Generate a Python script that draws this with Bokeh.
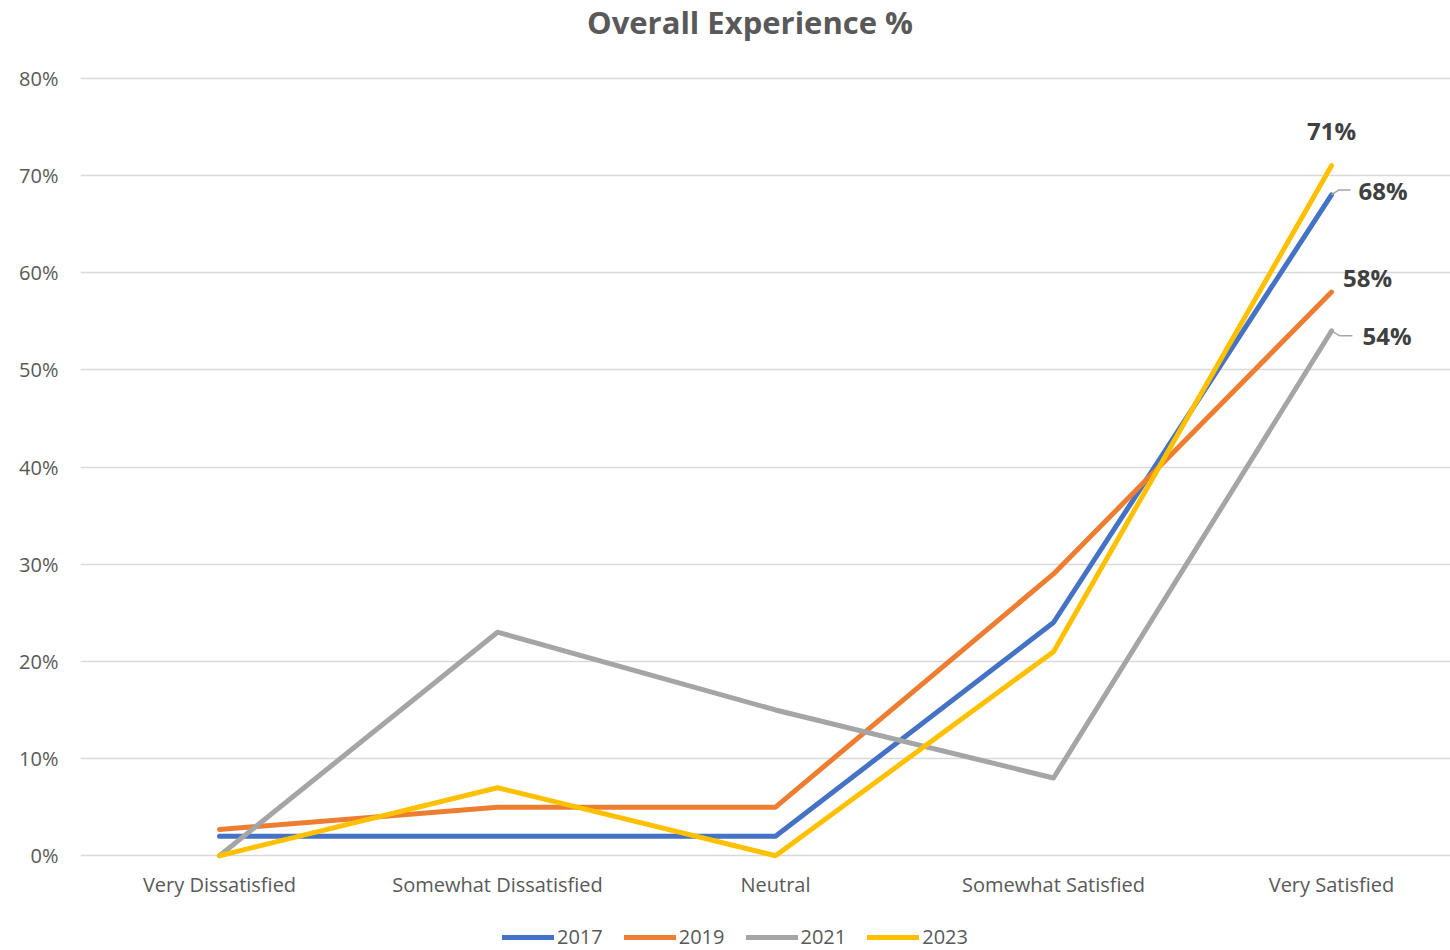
from bokeh.plotting import figure
from bokeh.models import ColumnDataSource, FixedTicker, Legend, LegendItem, Div
from bokeh.layouts import column
from bokeh.core.properties import value
from bokeh.embed import file_html
from bokeh.resources import INLINE

categories = ["Very Dissatisfied", "Somewhat Dissatisfied", "Neutral", "Somewhat Satisfied", "Very Satisfied"]
years = ["2017", "2019", "2021", "2023"]
v2017 = [2, 2, 2, 24, 68]
v2019 = [2.7, 5, 5, 29, 58]
v2021 = [0, 23, 15, 8, 54]
v2023 = [0, 7, 0, 21, 71]
series = [v2017, v2019, v2021, v2023]
colors = ["#4472C4", "#ED7D31", "#A5A5A5", "#FFC000"]
y_ticks = [0, 10, 20, 30, 40, 50, 60, 70, 80]
y_tick_labels = ["0%", "10%", "20%", "30%", "40%", "50%", "60%", "70%", "80%"]
title_text = "Overall Experience %"

FONT = "Open Sans"
GREY = "#595959"

title = Div(text=f'<div style="margin-left:50px;width:1400px;text-align:center;'
                 f'font-family:\'{FONT}\';font-size:31px;font-weight:bold;color:{GREY};'
                 f'line-height:44px;white-space:nowrap">{title_text}</div>',
            width=1450, height=44, margin=(0, 0, 0, 0))

p = figure(width=1450, height=862, output_backend="svg", toolbar_location=None,
           x_range=(-0.5, 4.428), y_range=(-0.8, 80.8),
           min_border_left=80, min_border_right=0, min_border_top=26, min_border_bottom=43,
           margin=(0, 0, 0, 0))
p.outline_line_color = None
p.background_fill_color = "white"

x = list(range(len(categories)))
for yr, vals, c in zip(years, series, colors):
    p.line(x, vals, line_color=c, line_width=5, line_cap="round", line_join="round")

# leader lines for 68% and 54%
ld = ColumnDataSource(dict(xs=[[4, 4.025, 4.068], [4, 4.03, 4.075]],
                           ys=[[v2017[4], v2017[4] + 0.5, v2017[4] + 0.5],
                               [v2021[4], v2021[4] - 0.5, v2021[4] - 0.5]]))
p.multi_line("xs", "ys", source=ld, line_color="#A5A5A5", line_width=1.5)

lab = ColumnDataSource(dict(
    x=[4, 4, 4, 4],
    y=[v2023[4], v2017[4], v2019[4], v2021[4]],
    t=[f"{v2023[4]}%", f"{v2017[4]}%", f"{v2019[4]}%", f"{v2021[4]}%"],
    xo=[0, 27, 36, 31],
    yo=[-35, -4, -15, 5],
    al=["center", "left", "center", "left"],
))
p.text("x", "y", text="t", source=lab, x_offset="xo", y_offset="yo", text_align="al",
       text_baseline="middle", text_font=value(FONT), text_font_size="24px",
       text_font_style="bold", text_color="#404040")

p.xaxis.ticker = FixedTicker(ticks=x)
p.xaxis.major_label_overrides = {i: c for i, c in enumerate(categories)}
p.yaxis.ticker = FixedTicker(ticks=y_ticks)
p.yaxis.major_label_overrides = {t: l for t, l in zip(y_ticks, y_tick_labels)}
for ax in (p.xaxis, p.yaxis):
    ax.axis_line_color = None
    ax.major_tick_line_color = None
    ax.minor_tick_line_color = None
    ax.major_tick_out = 0
    ax.major_tick_in = 0
    ax.minor_tick_out = 0
    ax.major_label_text_font = FONT
    ax.major_label_text_font_size = "20px"
    ax.major_label_text_color = GREY
p.xaxis.major_label_standoff = 7
p.yaxis.major_label_standoff = 22

p.xgrid.grid_line_color = None
p.ygrid.ticker = FixedTicker(ticks=y_ticks)
p.ygrid.grid_line_color = "#D9D9D9"
p.ygrid.grid_line_width = 1.5

# legend strip: same series drawn out of view, only the legend shows
lg = figure(width=1450, height=44, output_backend="svg", toolbar_location=None,
            x_range=(100, 101), y_range=(100, 101), x_axis_type=None, y_axis_type=None,
            min_border=0, margin=(0, 0, 0, 0))
lg.outline_line_color = None
lg.xgrid.visible = False
lg.ygrid.visible = False
items = []
for yr, vals, c in zip(years, series, colors):
    r = lg.line(x, vals, line_color=c, line_width=5, line_cap="round")
    items.append(LegendItem(label=yr, renderers=[r]))
legend = Legend(items=items, orientation="horizontal", location=(422, 0),
                glyph_width=52, glyph_height=20, label_standoff=3, spacing=21,
                label_text_font=FONT, label_text_font_size="20px", label_text_color=GREY,
                background_fill_alpha=0, border_line_color=None, padding=0, margin=0)
lg.add_layout(legend)

layout = column(title, p, lg, spacing=0, margin=(0, 0, 0, 0))
open("out.html", "w").write(file_html(layout, INLINE))
